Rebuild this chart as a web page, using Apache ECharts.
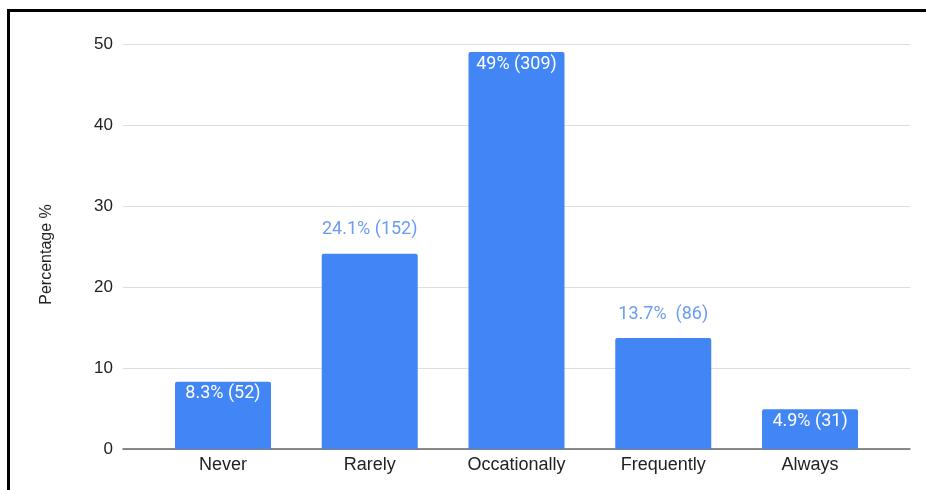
<!DOCTYPE html>
<html>
<head>
<meta charset="utf-8">
<script src="https://cdn.jsdelivr.net/npm/echarts@6/dist/echarts.min.js"></script>
<style>
  html, body { margin: 0; padding: 0; background: #fff; }
  #chart { width: 926px; height: 490px; }
</style>
</head>
<body>
<div id="chart"></div>
<script>
// Response categories and their share of respondents
const categories = ['Never', 'Rarely', 'Occationally', 'Frequently', 'Always'];
const percentages = [8.3, 24.1, 49, 13.7, 4.9];
const counts = [52, 152, 309, 86, 31];
// Spacing between the percentage and the count in each bar label
const labelSpacing = [' ', ' ', ' ', '  ', ' '];
// Which labels sit inside the top of their bar
const labelInside = [true, false, true, false, true];
const yTicks = [0, 10, 20, 30, 40, 50];

const BAR_BLUE = '#4285f4';
const OUT_LABEL = '#6a9cf2';
const FONT = '"Liberation Sans", Arial, sans-serif';
const LABEL_FONT = 'Roboto, "Liberation Sans", sans-serif';

const barData = percentages.map((v, i) => ({
  value: v,
  label: labelInside[i]
    ? { show: true, position: 'insideTop', distance: 3, color: '#ffffff' }
    : { show: true, position: 'top', distance: 15, color: OUT_LABEL }
}));

const chart = echarts.init(document.getElementById('chart'), null, { renderer: 'canvas' });
chart.setOption({
  animation: false,
  backgroundColor: '#ffffff',
  textStyle: { fontFamily: FONT },
  grid: [
    { left: 123, right: 16, top: 44, bottom: 41 },
    { left: 149.6, right: 42.6, top: 44, bottom: 41 }
  ],
  xAxis: [
    {
      gridIndex: 0, type: 'value', min: 0, max: 1,
      axisLine: { show: true, lineStyle: { color: '#666666', width: 1.5 } },
      axisTick: { show: false }, axisLabel: { show: false }, splitLine: { show: false }
    },
    {
      gridIndex: 1, type: 'category', data: categories,
      axisLine: { show: false }, axisTick: { show: false },
      axisLabel: { color: '#222222', fontSize: 18, margin: 7, fontFamily: FONT }
    }
  ],
  yAxis: [
    {
      gridIndex: 0, type: 'value',
      min: yTicks[0], max: yTicks[yTicks.length - 1], interval: 10,
      name: 'Percentage %', nameLocation: 'middle', nameGap: 68,
      nameTextStyle: { color: '#222222', fontSize: 16, fontFamily: FONT, padding: [0, 16, 0, 0] },
      axisLine: { show: false }, axisTick: { show: false },
      axisLabel: { color: '#222222', fontSize: 17, margin: 10, fontFamily: FONT },
      splitLine: { show: true, lineStyle: { color: '#dddddd', width: 1 } }
    },
    {
      gridIndex: 1, type: 'value',
      min: yTicks[0], max: yTicks[yTicks.length - 1],
      show: false, splitLine: { show: false }
    }
  ],
  series: [
    {
      type: 'bar', xAxisIndex: 1, yAxisIndex: 1,
      data: barData,
      barWidth: 96,
      itemStyle: { color: BAR_BLUE, borderRadius: [2, 2, 0, 0] },
      label: {
        show: true, fontSize: 18, fontFamily: LABEL_FONT,
        formatter: p => p.value + '%' + labelSpacing[p.dataIndex] + '(' + counts[p.dataIndex] + ')'
      }
    }
  ],
  graphic: [
    { type: 'line', shape: { x1: 7, y1: 10.5, x2: 926, y2: 10.5 }, style: { stroke: '#000000', lineWidth: 3 }, z: 100 },
    { type: 'line', shape: { x1: 8.5, y1: 9, x2: 8.5, y2: 490 }, style: { stroke: '#000000', lineWidth: 3 }, z: 100 }
  ]
});
</script>
</body>
</html>
